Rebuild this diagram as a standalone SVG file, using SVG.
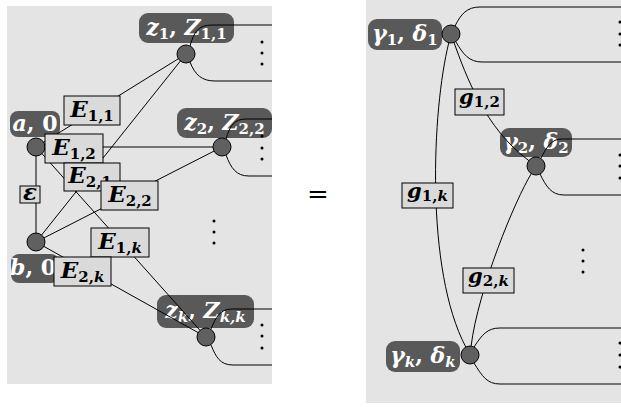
<svg xmlns="http://www.w3.org/2000/svg" width="621" height="407" viewBox="0 0 621 407">
<style>
.bg{fill:#e4e4e4}
.nl{fill:#595959}
.nt{fill:#fff;font-family:"DejaVu Serif",serif;font-size:22px;font-weight:bold}
.et{fill:#000;font-family:"DejaVu Serif",serif;font-size:23px;font-weight:bold}
.gt{fill:#000;font-family:"DejaVu Serif",serif;font-size:21px;font-weight:bold}
.i{font-style:italic}
.s{font-size:15px}
.bx{fill:#dadada;stroke:#000;stroke-width:1}
.c{fill:#606060;stroke:#000;stroke-width:1}
.e{fill:none;stroke:#000;stroke-width:1}
.d{fill:#000}
</style>
<rect class="bg" x="7" y="6" width="265" height="378"/>
<rect class="bg" x="366" y="0" width="255" height="403"/>
<text x="318" y="203" text-anchor="middle" font-family="DejaVu Serif,serif" font-size="26">=</text>

<g id="node-z1">
<rect class="nl" x="139" y="13" width="95" height="30" rx="9"/>
<text class="nt" x="186.5" y="35" text-anchor="middle"><tspan class="i">z</tspan><tspan class="s" dy="4">1</tspan><tspan dy="-4">, </tspan><tspan class="i">Z</tspan><tspan class="s" dy="4">1,1</tspan></text>
<circle class="c" cx="186" cy="54" r="9"/>
<circle class="d" cx="262" cy="42" r="1.5"/><circle class="d" cx="262" cy="53" r="1.5"/><circle class="d" cx="262" cy="64" r="1.5"/>
</g>
<g id="node-z2">
<rect class="nl" x="177" y="108" width="95" height="30" rx="9"/>
<text class="nt" x="224.5" y="130" text-anchor="middle"><tspan class="i">z</tspan><tspan class="s" dy="4">2</tspan><tspan dy="-4">, </tspan><tspan class="i">Z</tspan><tspan class="s" dy="4">2,2</tspan></text>
<circle class="c" cx="222" cy="147" r="9"/>
<circle class="d" cx="262" cy="136" r="1.5"/><circle class="d" cx="262" cy="148" r="1.5"/><circle class="d" cx="262" cy="159" r="1.5"/>
</g>
<g id="node-zk">
<rect class="nl" x="157" y="295" width="97" height="33" rx="9"/>
<text class="nt" x="205.5" y="318" text-anchor="middle"><tspan class="i">z</tspan><tspan class="s i" dy="4">k</tspan><tspan dy="-4">, </tspan><tspan class="i">Z</tspan><tspan class="s i" dy="4">k,k</tspan></text>
<circle class="c" cx="206" cy="337" r="9"/>
<circle class="d" cx="262" cy="325" r="1.5"/><circle class="d" cx="262" cy="336" r="1.5"/><circle class="d" cx="262" cy="348" r="1.5"/>
</g>
<g id="node-a">
<rect class="nl" x="10" y="111" width="50" height="26" rx="8"/>
<text class="nt" x="35" y="131" text-anchor="middle" font-size="21px"><tspan class="i">a</tspan>, 0</text>
<circle class="c" cx="36" cy="147" r="9"/>
</g>
<g id="node-b">
<rect class="nl" x="11" y="254" width="48" height="29" rx="8"/>
<text class="nt" x="33" y="275" text-anchor="middle" font-size="20px"><tspan class="i">b</tspan>, 0</text>
<circle class="c" cx="36" cy="242" r="9"/>
</g>
<g id="dots-left">
<circle class="d" cx="214" cy="221" r="1.5"/><circle class="d" cx="214" cy="232" r="1.5"/><circle class="d" cx="214" cy="243" r="1.5"/>
</g>

<g id="node-g1">
<rect class="nl" x="368" y="19" width="74" height="31" rx="9"/>
<text class="nt" x="405" y="41" text-anchor="middle"><tspan class="i">γ</tspan><tspan class="s" dy="4">1</tspan><tspan dy="-4">, </tspan><tspan class="i">δ</tspan><tspan class="s" dy="4">1</tspan></text>
<circle class="c" cx="451" cy="34" r="9"/>
<circle class="d" cx="620" cy="22" r="1.5"/><circle class="d" cx="620" cy="34" r="1.5"/><circle class="d" cx="620" cy="45" r="1.5"/>
</g>
<g id="node-g2">
<rect class="nl" x="500" y="128" width="72" height="29" rx="9"/>
<text class="nt" x="536" y="149" text-anchor="middle"><tspan class="i">γ</tspan><tspan class="s" dy="4">2</tspan><tspan dy="-4">, </tspan><tspan class="i">δ</tspan><tspan class="s" dy="4">2</tspan></text>
<circle class="c" cx="536" cy="166" r="9"/>
<circle class="d" cx="620" cy="155" r="1.5"/><circle class="d" cx="620" cy="166" r="1.5"/><circle class="d" cx="620" cy="178" r="1.5"/>
</g>
<g id="node-gk">
<rect class="nl" x="386" y="341" width="74" height="31" rx="9"/>
<text class="nt" x="423" y="363" text-anchor="middle"><tspan class="i">γ</tspan><tspan class="s i" dy="4">k</tspan><tspan dy="-4">, </tspan><tspan class="i">δ</tspan><tspan class="s i" dy="4">k</tspan></text>
<circle class="c" cx="470" cy="355" r="9"/>
<circle class="d" cx="620" cy="343" r="1.5"/><circle class="d" cx="620" cy="355" r="1.5"/><circle class="d" cx="620" cy="367" r="1.5"/>
</g>
<g id="dots-right">
<circle class="d" cx="583" cy="250" r="1.5"/><circle class="d" cx="583" cy="261" r="1.5"/><circle class="d" cx="583" cy="272" r="1.5"/>
</g>

<g id="connectors">
<path class="e" d="M190,46 C194,32 198,25 212,25 H272"/>
<path class="e" d="M190,62 C195,75 202,81 215,81 H272"/>
<path class="e" d="M226,139 C230,126 234,119 246,119 H272"/>
<path class="e" d="M226,155 C231,168 236,176 249,176 H272"/>
<path class="e" d="M211,329 C216,317 220,309 232,309 H272"/>
<path class="e" d="M211,345 C216,357 220,365 233,365 H272"/>
<path class="e" d="M455,26 C461,14 467,7 480,7 H621"/>
<path class="e" d="M456,42 C463,54 469,62 482,62 H621"/>
<path class="e" d="M541,158 C547,147 551,139 562,139 H621"/>
<path class="e" d="M540,174 C546,186 551,195 564,195 H621"/>
<path class="e" d="M474,347 C482,335 487,328 500,328 H621"/>
<path class="e" d="M474,363 C482,376 487,384 500,384 H621"/>

<line class="e" x1="43.6" y1="142.3" x2="178.4" y2="58.7"/>
<line class="e" x1="45" y1="147" x2="213" y2="147"/>
<line class="e" x1="41.6" y1="235" x2="180.4" y2="61"/>
<line class="e" x1="42" y1="153.7" x2="200" y2="330.3"/>
<line class="e" x1="44" y1="237.9" x2="214" y2="151.1"/>
<line class="e" x1="43.9" y1="246.4" x2="198.1" y2="332.6"/>
<line class="e" x1="36" y1="156" x2="36" y2="233"/>

<path class="e" d="M454,42.5 C466,76 485,128 528.8,160.6"/>
<path class="e" d="M448.8,42.7 C432,110 425,270 465.8,347"/>
<path class="e" d="M531.3,173.7 C515,200 478,290 471.1,346.1"/>

<g id="label-E11"><rect class="bx" x="64" y="96" width="56" height="29"/><text class="et" x="92" y="117" text-anchor="middle"><tspan class="i">E</tspan><tspan class="s" dy="4">1,1</tspan></text></g>
<g id="label-E12"><rect class="bx" x="45" y="134" width="58" height="29"/><text class="et" x="74" y="155" text-anchor="middle"><tspan class="i">E</tspan><tspan class="s" dy="4">1,2</tspan></text></g>
<g id="label-E21"><rect class="bx" x="64" y="163" width="56" height="28"/><text class="et" x="90" y="183" text-anchor="middle"><tspan class="i">E</tspan><tspan class="s" dy="4">2,1</tspan></text></g>
<g id="label-E22"><rect class="bx" x="101" y="181" width="57" height="29"/><text class="et" x="130" y="202" text-anchor="middle"><tspan class="i">E</tspan><tspan class="s" dy="4">2,2</tspan></text></g>
<g id="label-E1k"><rect class="bx" x="91" y="228" width="58" height="29"/><text class="et" x="120" y="249" text-anchor="middle"><tspan class="i">E</tspan><tspan class="s" dy="4">1,</tspan><tspan class="s i">k</tspan></text></g>
<g id="label-E2k"><rect class="bx" x="54" y="257" width="57" height="29"/><text class="et" x="82.5" y="278" text-anchor="middle"><tspan class="i">E</tspan><tspan class="s" dy="4">2,</tspan><tspan class="s i">k</tspan></text></g>
<g id="label-eps"><rect class="bx" x="20" y="186" width="20" height="17"/><text class="et" x="30" y="200" text-anchor="middle" font-size="15px" font-style="italic">ε</text></g>
<g id="label-g12"><rect class="bx" x="455" y="89" width="49" height="26"/><text class="gt" x="479.5" y="104" text-anchor="middle"><tspan class="i">g</tspan><tspan class="s" dy="3">1,2</tspan></text></g>
<g id="label-g1k"><rect class="bx" x="402" y="183" width="51" height="25"/><text class="gt" x="427.5" y="198" text-anchor="middle"><tspan class="i">g</tspan><tspan class="s" dy="3">1,</tspan><tspan class="s i">k</tspan></text></g>
<g id="label-g2k"><rect class="bx" x="463" y="268" width="51" height="25"/><text class="gt" x="488.5" y="283" text-anchor="middle"><tspan class="i">g</tspan><tspan class="s" dy="3">2,</tspan><tspan class="s i">k</tspan></text></g>
</g>
</svg>
